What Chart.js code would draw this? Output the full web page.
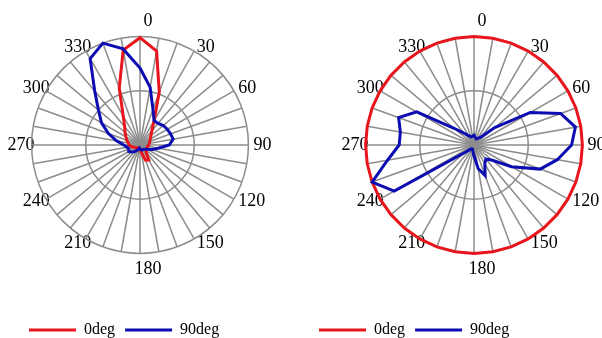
<!DOCTYPE html>
<html><head><meta charset="utf-8">
<script src="https://cdn.jsdelivr.net/npm/chart.js@4"></script>
<style>
html,body{margin:0;padding:0;background:#fff;}
body{position:relative;width:602px;height:338px;overflow:hidden;}
canvas{position:absolute;top:0;width:330px;height:338px;}
#c1{left:-26px;} #c2{left:308px;}
</style></head><body>
<canvas id="c1" width="330" height="338"></canvas>
<canvas id="c2" width="330" height="338"></canvas>
<script>
// angle categories (degrees) and the tick labels shown around the dial
const angles = [0,10,20,30,40,50,60,70,80,90,100,110,120,130,140,150,160,170,180,190,200,210,220,230,240,250,260,270,280,290,300,310,320,330,340,350];
const angleTickLabels = ['0','30','60','90','120','150','180','210','240','270','300','330'];
const seriesNames = ['0deg','90deg'];

// left chart
const leftDeg0 = [0.99,0.88,0.52,0.26,0.17,0.13,0.11,0.095,0.088,0.08,0.07,0.07,0.07,0.07,0.09,0.16,0.15,0.07,0.04,0.03,0.03,0.03,0.04,0.04,0.05,0.06,0.08,0.1,0.11,0.13,0.15,0.18,0.22,0.31,0.56,0.89];
const leftDeg90 = [0.71,0.54,0.35,0.26,0.26,0.28,0.29,0.3,0.31,0.27,0.17,0.12,0.08,0.06,0.05,0.05,0.05,0.04,0.04,0.03,0.04,0.06,0.08,0.1,0.12,0.11,0.12,0.15,0.22,0.31,0.41,0.5,0.65,0.92,1.0,0.9];

// right chart
const rightDeg0 = [1,1,1,1,1,1,1,1,1,1,1,1,1,1,1,1,1,1,1,1,1,1,1,1,1,1,1,1,1,1,1,1,1,1,1,1];
const rightDeg90 = [0.09,0.07,0.06,0.07,0.09,0.25,0.6,0.85,0.95,0.9,0.78,0.65,0.4,0.22,0.17,0.2,0.3,0.22,0.1,0.06,0.04,0.04,0.05,0.1,0.85,1.0,0.81,0.69,0.69,0.74,0.61,0.24,0.14,0.1,0.08,0.08];

const RED = '#e8161c';
const BLUE = '#0c0cb2';
const GRAY = '#8c8c8c';
const LABEL_SIZE = 18;

const tweak = {
  id: 'tweak',
  afterLayout(chart, args, opts) {
    const s = chart.scales.r;
    const items = s._pointLabelItems || [];
    const h = LABEL_SIZE * 1.2;
    items.forEach((it, i) => {
      const a = angles[i];
      let dx = 0, dy = 0;
      if (a === 0 || a >= 180) dx = opts.labelShift;
      if ((a > 0 && a < 90) || a > 270) dy = h / 2;
      else if (a > 90 && a < 270 && a !== 180) dy = -h / 2;
      it.x += dx; it.left += dx; it.right += dx;
      it.y += dy; it.top += dy; it.bottom += dy;
    });
    const lg = chart.legend;
    if (lg) {
      const dx = opts.legendLeft - lg.left;
      const dy = opts.legendTop - lg.top;
      lg.left += dx; lg.right += dx;
      lg.top += dy; lg.bottom += dy;
    }
  }
};

function makeChart(id, d0, d90, legendLeft) {
  return new Chart(document.getElementById(id), {
    type: 'radar',
    data: {
      labels: angles.map(String),
      datasets: [
        {label: seriesNames[0], data: d0, borderColor: RED, backgroundColor: RED, borderWidth: 3, pointRadius: 0, fill: false, order: 1},
        {label: seriesNames[1], data: d90, borderColor: BLUE, backgroundColor: BLUE, borderWidth: 3, pointRadius: 0, fill: false, order: 0}
      ]
    },
    options: {
      responsive: false,
      animation: false,
      events: [],
      layout: {padding: {top: 10, bottom: 21, left: 0, right: 0}},
      scales: {
        r: {
          min: 0, max: 1,
          ticks: {display: false, stepSize: 0.5},
          grid: {circular: true, color: GRAY, lineWidth: 1.5},
          angleLines: {color: GRAY, lineWidth: 1.5},
          pointLabels: {
            color: '#000',
            padding: 5,
            font: {family: 'Liberation Serif', size: LABEL_SIZE},
            callback: (label) => angleTickLabels.includes(String(label)) ? String(label) : ''
          }
        }
      },
      plugins: {
        tooltip: {enabled: false},
        legend: {
          position: 'bottom',
          align: 'start',
          labels: {
            usePointStyle: true,
            pointStyle: 'line',
            pointStyleWidth: 47,
            color: '#000',
            padding: 10,
            font: {family: 'Liberation Serif', size: 16},
            sort: (a, b) => a.datasetIndex - b.datasetIndex
          }
        },
        tweak: {legendLeft: legendLeft, legendTop: 312, labelShift: 8}
      }
    },
    plugins: [tweak]
  });
}

makeChart('c1', leftDeg0, leftDeg90, 45);
makeChart('c2', rightDeg0, rightDeg90, 1);
</script>
</body></html>
